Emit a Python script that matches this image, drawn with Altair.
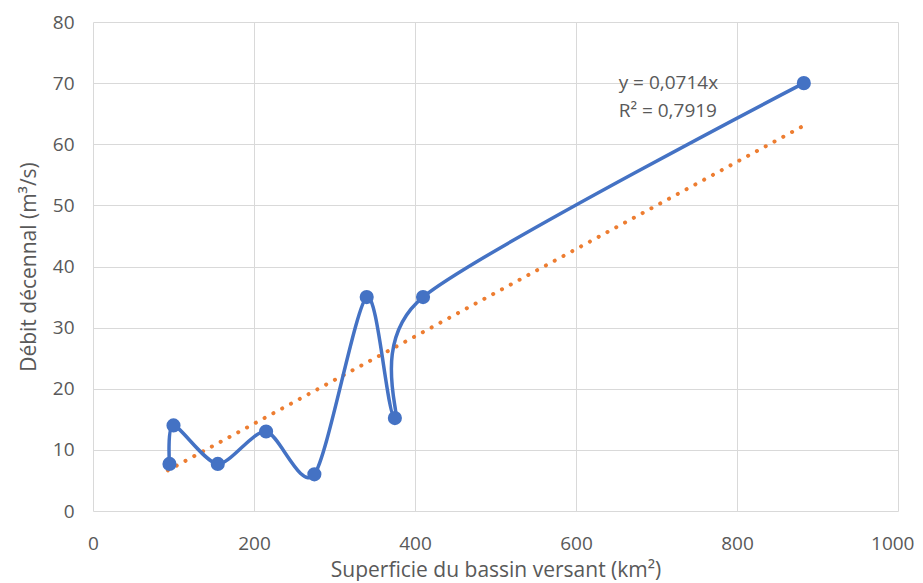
import altair as alt
import pandas as pd

superficie = [95, 100, 155, 215, 275, 340, 375, 410, 883]
debit = [7.7, 14.0, 7.7, 13.0, 6.0, 35.0, 15.2, 35.0, 70.0]
ordre = list(range(len(superficie)))

trend_x = [93, 882]
slope = 0.0714
annot_x = [653, 653]
annot_y = [70.0, 65.4]
annot_txt = ["y = 0,0714x", "R² = 0,7919"]

FONT = "Open Sans"
GREY = "#595959"

df = pd.DataFrame({"x": superficie, "y": debit, "o": ordre})
dft = pd.DataFrame({"x": trend_x})
dfa = pd.DataFrame({"x": annot_x, "y": annot_y, "t": annot_txt})

xs = alt.Scale(domain=[0, 1000], nice=False)
ys = alt.Scale(domain=[0, 80], nice=False)

xaxis = alt.Axis(values=[0, 200, 400, 600, 800, 1000], format="d", title="Superficie du bassin versant (km²)",
                 grid=True, gridColor="#d9d9d9", domain=False, ticks=False, labelFlush=False,
                 labelAlign={"condition": {"test": "datum.value == 1000", "value": "right"}, "value": "center"},
                 labelOffset={"condition": {"test": "datum.value == 1000", "value": 16}, "value": 0},
                 labelFont=FONT, labelFontSize=19, labelColor=GREY, labelPadding=23,
                 titleFont=FONT, titleFontSize=21, titleColor=GREY, titleFontWeight="normal",
                 titleY=59, titleBaseline="middle")
yaxis = alt.Axis(values=list(range(0, 81, 10)), title="Débit décennal (m³/s)",
                 grid=True, gridColor="#d9d9d9", domain=False, ticks=False, labelFlush=False,
                 labelFont=FONT, labelFontSize=19, labelColor=GREY, labelPadding=19,
                 titleFont=FONT, titleFontSize=21, titleColor=GREY, titleFontWeight="normal", titlePadding=13)

trend = alt.Chart(dft).transform_calculate(y=f"{slope}*datum.x").mark_line(
    color="#ed7d31", strokeWidth=4, strokeDash=[0.1, 9.9], strokeCap="round"
).encode(x=alt.X("x:Q", scale=xs, axis=xaxis), y=alt.Y("y:Q", scale=ys, axis=yaxis))

line = alt.Chart(df).mark_line(color="#4472c4", strokeWidth=3.5, interpolate="cardinal", tension=0.2).encode(
    x=alt.X("x:Q", scale=xs), y=alt.Y("y:Q", scale=ys), order="o:Q")

pts = alt.Chart(df).mark_circle(color="#4472c4", size=200, opacity=1).encode(
    x=alt.X("x:Q", scale=xs), y=alt.Y("y:Q", scale=ys))

txt = alt.Chart(dfa).mark_text(align="left", baseline="middle", font=FONT, fontSize=19, color=GREY).encode(
    x=alt.X("x:Q", scale=xs), y=alt.Y("y:Q", scale=ys), text="t:N")

chart = alt.layer(trend, line, pts, txt).properties(
    width=805, height=489,
    autosize=alt.AutoSizeParams(type="none"),
    padding={"left": 85, "top": 14, "right": 17, "bottom": 70},
).configure_view(stroke=None)

chart.save("out.html", embed_options={"renderer": "svg", "actions": False})
